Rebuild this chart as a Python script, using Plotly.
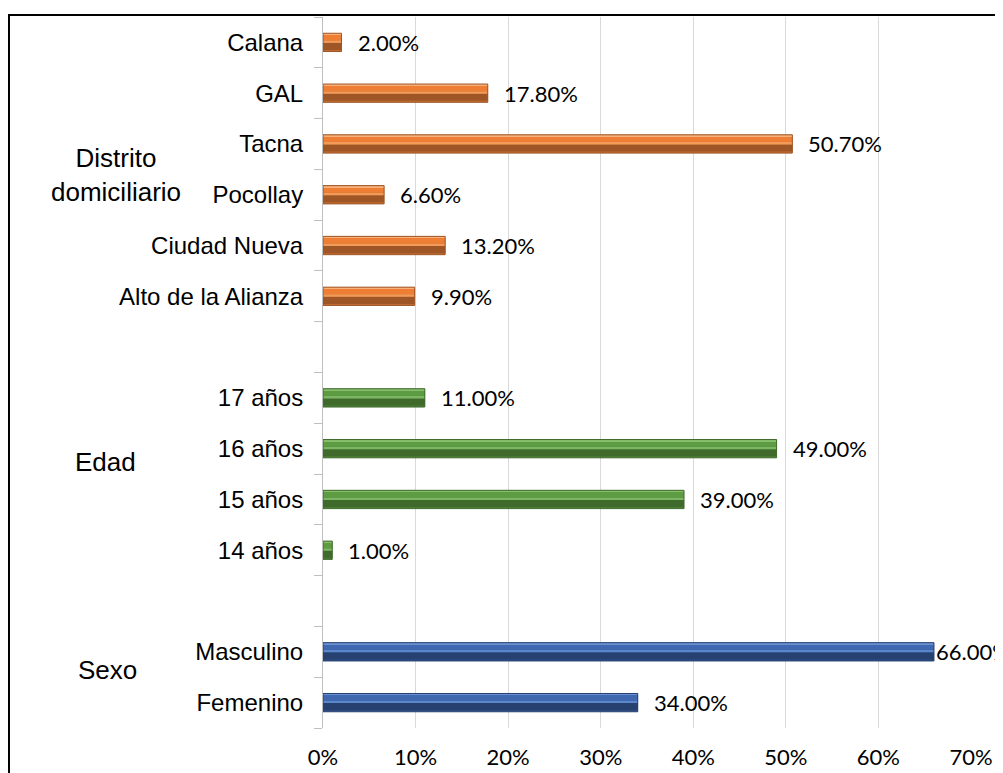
import plotly.graph_objects as go

# ---------------- data ----------------
sexo_cats = ["Femenino", "Masculino"]
sexo_vals = [0.34, 0.66]

edad_cats = ["14 años", "15 años", "16 años", "17 años"]
edad_vals = [0.01, 0.39, 0.49, 0.11]

distrito_cats = ["Alto de la Alianza", "Ciudad Nueva", "Pocollay", "Tacna", "GAL", "Calana"]
distrito_vals = [0.099, 0.132, 0.066, 0.507, 0.178, 0.02]

group_names = ["Sexo", "Edad", "Distrito<br>domiciliario"]
x_ticks = [0, 0.1, 0.2, 0.3, 0.4, 0.5, 0.6, 0.7]

# ---------------- style ----------------
gap1, gap2 = " ", "  "
category_order = sexo_cats + [gap1] + edad_cats + [gap2] + distrito_cats

palettes = {
    "blue":   ["#2F4F8A", "#26406F", "#5C86CC", "#3F68B0", "#6A90D2"],
    "green":  ["#4C7D36", "#3F6A2C", "#7BB662", "#5E9C43", "#86BE6C"],
    "orange": ["#C06B30", "#9E5626", "#F29A58", "#EE7E33", "#F7B07A"],
}
# (offset, width) bands, bottom to top, in category units
bands = [(-0.18, 0.36), (-0.15, 0.14), (-0.01, 0.05), (0.04, 0.11), (0.15, 0.03)]

series = [
    (sexo_cats, sexo_vals, "blue"),
    (edad_cats, edad_vals, "green"),
    (distrito_cats, distrito_vals, "orange"),
]

fig = go.Figure()
for cats, vals, pal in series:
    for (off, w), col in zip(bands, palettes[pal]):
        fig.add_trace(go.Bar(
            x=vals, y=cats, orientation="h",
            offset=off, width=w,
            marker=dict(color=col, line=dict(width=0)),
            hoverinfo="skip", showlegend=False,
        ))
    fig.add_trace(go.Bar(
        x=vals, y=cats, orientation="h", offset=-0.18, width=0.36,
        marker=dict(color="rgba(0,0,0,0)", line=dict(width=1, color=palettes[pal][1])),
        hoverinfo="skip", showlegend=False,
    ))

# data labels
label_font = dict(family="Lato, Open Sans, sans-serif", size=22, color="#000000")
xmax = 0.7
for cats, vals, pal in series:
    for c, v in zip(cats, vals):
        fig.add_annotation(
            x=v, y=c, xref="x", yref="y", text=f"{v*100:.2f}%",
            showarrow=False, xanchor="left", yanchor="middle",
            xshift=14 if v < 0.6 else 0, font=label_font,
        )

# group labels
group_centers = [
    (category_order.index(sexo_cats[0]) + category_order.index(sexo_cats[-1])) / 2,
    (category_order.index(edad_cats[0]) + category_order.index(edad_cats[-1])) / 2,
    (category_order.index(distrito_cats[0]) + category_order.index(distrito_cats[-1])) / 2,
]
group_x = [-0.333, -0.336, -0.32]
group_yshift = [7, 12, -6]
for name, yc, gx, ys in zip(group_names, group_centers, group_x, group_yshift):
    fig.add_annotation(
        x=gx, y=yc, xref="paper", yref="y", text=name, showarrow=False,
        xanchor="center", yanchor="middle", yshift=ys, align="center",
        font=dict(family="Liberation Sans, Arial, sans-serif", size=26, color="#000000"),
    )

# border around chart
fig.add_shape(
    type="rect", xref="paper", yref="paper",
    x0=-0.4846, x1=1.2, y0=-0.3, y1=1.0028,
    line=dict(color="#000000", width=2), fillcolor="rgba(0,0,0,0)", layer="above",
)

# the page body has an 8px margin, so the figure is laid out 8px smaller
fig.update_layout(
    width=995, height=765,
    margin=dict(l=315, r=32, t=9, b=45, pad=0, autoexpand=False),
    paper_bgcolor="#FFFFFF", plot_bgcolor="#FFFFFF",
    barmode="overlay",
    showlegend=False,
)
fig.update_xaxes(
    range=[0, xmax], tickvals=x_ticks, tickformat=".0%", automargin=False,
    showgrid=True, gridcolor="#D9D9D9", gridwidth=1,
    zeroline=False, showline=False, ticks="", ticklabelstandoff=14,
    tickfont=dict(family="Lato, Open Sans, sans-serif", size=22, color="#000000"),
)
fig.update_yaxes(
    type="category", categoryorder="array", categoryarray=category_order,
    range=[-0.5, len(category_order) - 0.5], automargin=False,
    tickson="boundaries", ticks="outside", ticklen=8, tickcolor="#BFBFBF", tickwidth=1,
    showline=True, linecolor="#BFBFBF", linewidth=1,
    showgrid=False, zeroline=False, ticklabelstandoff=14,
    tickfont=dict(family="Liberation Sans, Arial, sans-serif", size=24, color="#000000"),
)

fig.write_html("out.html")
